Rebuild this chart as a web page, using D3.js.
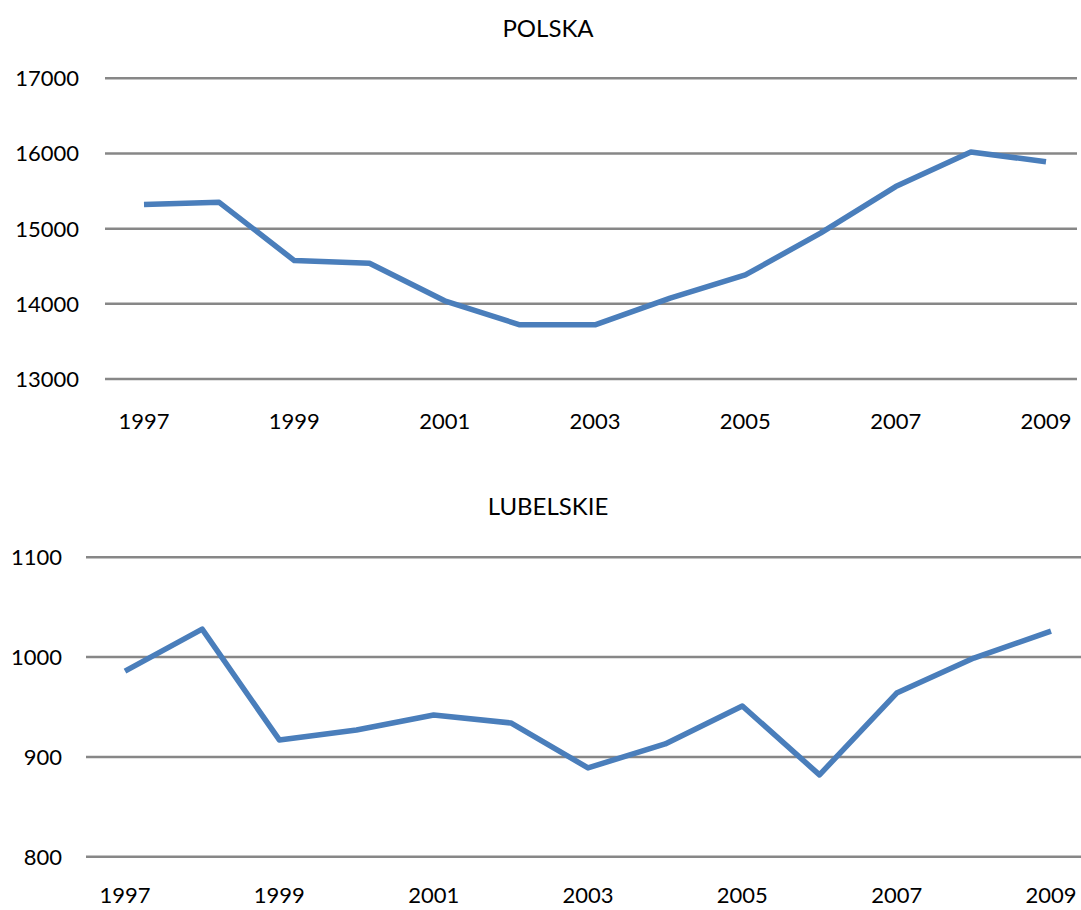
<head>
	<title>Polska / Lubelskie</title>
	<meta charset="utf-8"/>
	<script src="https://d3js.org/d3.v7.min.js"></script>
	<style>
		body { margin: 0; background: #fff; }
		text { font-family: Lato, "Open Sans", sans-serif; fill: #000; }
	</style>
</head>
<body>
<div id="chart"></div>
<script>
    var years = [1997, 1998, 1999, 2000, 2001, 2002, 2003, 2004, 2005, 2006, 2007, 2008, 2009];
    var yearLabels = [1997, 1999, 2001, 2003, 2005, 2007, 2009];

    var polskaValues = [15320, 15350, 14575, 14540, 14040, 13720, 13720, 14075, 14385, 14940, 15560, 16020, 15890];
    var polskaTicks = [13000, 14000, 15000, 16000, 17000];

    var lubelskieValues = [986, 1028, 917, 927, 942, 934, 889, 913, 951, 882, 964, 999, 1026];
    var lubelskieTicks = [800, 900, 1000, 1100];

    var svg = d3.select("#chart")
        .append("svg")
        .attr("width", 1081)
        .attr("height", 910);

    // one panel: title, gridlines, y labels, x labels, line
    function drawPanel(opt) {
        var x = d3.scalePoint()
            .domain(years)
            .range([opt.x0, opt.x1]);
        var y = d3.scaleLinear()
            .domain([opt.ticks[0], opt.ticks[opt.ticks.length - 1]])
            .range([opt.yBottom, opt.yTop]);

        var g = svg.append("g");

        g.append("text")
            .attr("x", 548)
            .attr("y", opt.titleY)
            .attr("text-anchor", "middle")
            .style("font-size", "24px")
            .text(opt.title);

        g.selectAll("line.grid")
            .data(opt.ticks)
            .enter()
            .append("line")
            .attr("class", "grid")
            .attr("x1", opt.gridX0)
            .attr("x2", opt.gridX1)
            .attr("y1", function(d) { return y(d); })
            .attr("y2", function(d) { return y(d); })
            .attr("stroke", "#878787")
            .attr("stroke-width", 2.5);

        g.selectAll("text.ylab")
            .data(opt.ticks)
            .enter()
            .append("text")
            .attr("class", "ylab")
            .attr("x", opt.labelX)
            .attr("y", function(d) { return y(d); })
            .attr("dy", "0.36em")
            .attr("text-anchor", "end")
            .style("font-size", "22px")
            .text(function(d) { return d; });

        g.selectAll("text.xlab")
            .data(yearLabels)
            .enter()
            .append("text")
            .attr("class", "xlab")
            .attr("x", function(d) { return x(d); })
            .attr("y", opt.xLabelY)
            .attr("text-anchor", "middle")
            .style("font-size", "22px")
            .text(function(d) { return d; });

        var line = d3.line()
            .x(function(d, i) { return x(years[i]); })
            .y(function(d) { return y(d); });

        g.append("path")
            .datum(opt.values)
            .attr("d", line)
            .attr("fill", "none")
            .attr("stroke", "#4A7EBB")
            .attr("stroke-width", 5.5)
            .attr("stroke-linejoin", "round");
    }

    drawPanel({
        title: "POLSKA", titleY: 37,
        values: polskaValues, ticks: polskaTicks,
        x0: 144, x1: 1046, yTop: 78.3, yBottom: 379,
        gridX0: 105, gridX1: 1077, labelX: 79, xLabelY: 429
    });

    drawPanel({
        title: "LUBELSKIE", titleY: 515,
        values: lubelskieValues, ticks: lubelskieTicks,
        x0: 125, x1: 1051, yTop: 557.3, yBottom: 856.7,
        gridX0: 86, gridX1: 1081, labelX: 62, xLabelY: 903
    });
</script>
</body>
